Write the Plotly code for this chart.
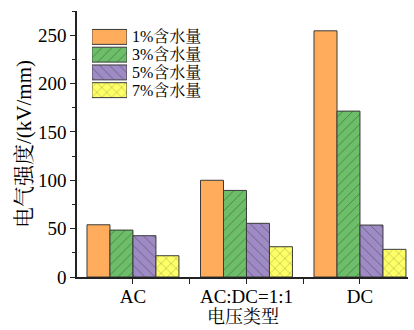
import plotly.graph_objects as go

# Breakdown strength by voltage type and moisture content
categories = ["AC", "AC:DC=1:1", "DC"]
series_names = ["1%含水量", "3%含水量", "5%含水量", "7%含水量"]
values_1pct = [54, 100, 254.5]
values_3pct = [48.5, 89.5, 171.5]
values_5pct = [42.7, 55.5, 53.7]
values_7pct = [22, 31.3, 28.6]
y_ticks = [0, 50, 100, 150, 200, 250]

series_values = [values_1pct, values_3pct, values_5pct, values_7pct]
fills = ["#FFAD5C", "#6CBF68", "#9E8AC4", "#FFFF66"]
hatches = ["", "/", "\\", "x"]
edge = "#3a3a3a"

SERIF = "Liberation Serif, Times New Roman, Noto Serif CJK SC, Noto Sans CJK SC, serif"

fig = go.Figure()
xpos = list(range(len(categories)))

for name, vals, col, pat in zip(series_names, series_values, fills, hatches):
    fig.add_trace(go.Bar(
        x=xpos, y=vals, name=name, showlegend=False,
        marker=dict(color=col, line=dict(color=edge, width=1),
                    pattern=dict(shape=pat, fgcolor="#2b2b2b", bgcolor=col,
                                 size=7, solidity=0.12, fillmode="overlay")),
        xaxis="x", yaxis="y",
    ))

# Key swatches drawn as short horizontal bars on an inset axis pair
for i, (name, col, pat) in enumerate(zip(series_names, fills, hatches)):
    fig.add_trace(go.Bar(
        x=[1], y=[i], orientation="h", showlegend=False,
        marker=dict(color=col, line=dict(color=edge, width=1),
                    pattern=dict(shape=pat, fgcolor="#2b2b2b", bgcolor=col,
                                 size=7, solidity=0.12, fillmode="overlay")),
        xaxis="x2", yaxis="y2", hoverinfo="skip", width=0.84,
    ))
    fig.add_annotation(
        x=0.159, xref="paper", y=i, yref="y2", text=name, showarrow=False,
        xanchor="left", yanchor="middle",
        font=dict(family=SERIF, size=16, color="black"),
    )

# x-axis title placed below the category labels
fig.add_annotation(
    x=0.5, xref="paper", y=-0.196, yref="paper", text="电压类型",
    showarrow=False, xanchor="center", yanchor="bottom",
    font=dict(family=SERIF, size=18, color="black"),
)

fig.update_layout(
    width=414, height=330,
    margin=dict(l=77, r=6, t=11, b=53),
    paper_bgcolor="white", plot_bgcolor="white",
    barmode="group", bargap=0.19, bargroupgap=0,
    font=dict(family=SERIF, color="black"),
    xaxis=dict(
        range=[-0.493, 2.423], tickvals=xpos, ticktext=categories,
        showline=True, linecolor="#222", linewidth=1.5,
        ticks="outside", ticklen=5, tickcolor="#222", tickwidth=1.2,
        minor=dict(tickvals=[0.5, 1.5], ticks="outside", ticklen=5,
                   tickcolor="#222", tickwidth=1.2),
        showgrid=False, zeroline=False, automargin=False,
        ticklabelstandoff=-4,
        tickfont=dict(family=SERIF, size=19, color="black"),
    ),
    yaxis=dict(
        range=[0, 275], tickvals=y_ticks,
        showline=True, linecolor="#222", linewidth=1.5,
        ticks="outside", ticklen=5, tickcolor="#222", tickwidth=1.2,
        minor=dict(dtick=25, ticks="outside", ticklen=3,
                   tickcolor="#222", tickwidth=1),
        showgrid=False, zeroline=False,
        tickfont=dict(family=SERIF, size=19, color="black"),
        title=dict(text="电气强度/(kV/mm)",
                   font=dict(family=SERIF, size=21, color="black"),
                   standoff=1),
    ),
    xaxis2=dict(domain=[0.045, 0.151], range=[0, 1], visible=False,
                anchor="y2", fixedrange=True),
    yaxis2=dict(domain=[0.669, 0.936], range=[3.5, -0.5], visible=False,
                anchor="x2", fixedrange=True),
)

fig.write_html("out.html")
